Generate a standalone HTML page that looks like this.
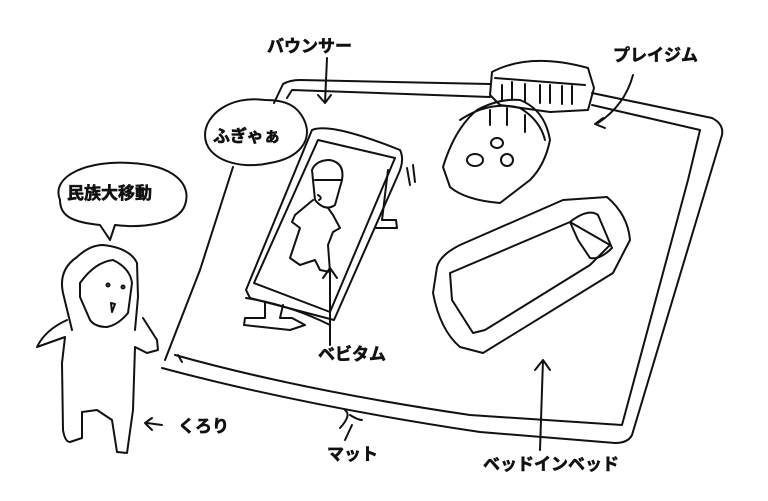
<!DOCTYPE html>
<html><head><meta charset="utf-8"><style>
html,body{margin:0;padding:0;background:#fff;}
svg{display:block}
text{font-family:"Liberation Sans","Noto Sans CJK JP",sans-serif;font-weight:bold;font-size:17px;fill:#111;stroke:#111;stroke-width:0.6}
path,ellipse,polyline{fill:none;stroke:#111;stroke-width:2;stroke-linecap:round;stroke-linejoin:round}
</style></head><body>
<svg width="768" height="501" viewBox="0 0 768 501">
<!-- mat -->
<path d="M274,103 L283,84 Q290,80 300,80 L490,84"/>
<path d="M287,98 L292,90 L490,97"/>
<path d="M592,93 L712,118 Q724,124 722,135 L632,435 Q628,443 615,443 L480,432 Q300,405 162,368"/>
<path d="M592,105 L700,130 L688,180 L622,425 L470,415 Q300,390 175,355"/>
<path d="M233,167 L200,270 L165,360"/>
<path d="M178,355 L182,362"/>
<!-- bubble ふぎゃぁ -->
<path d="M265,100 C230,95 205,115 205,135 C205,160 240,170 270,163 C300,158 312,140 305,122 C298,105 285,100 265,100 Z"/>
<!-- bubble 民族大移動 -->
<path d="M60,200 C50,175 90,160 130,163 C175,165 192,185 185,205 C178,225 140,228 115,225 L110,240 L100,225 C70,222 60,215 60,200 Z"/>
<!-- person -->
<path d="M72,330 L63,293 Q58,270 77,257 Q90,245 103,245 Q130,248 137,263 L138,297 L135,330"/>
<path d="M80,283 Q95,262 113,260 Q130,268 132,283 L128,313 Q118,325 107,327 Q95,327 90,320 L80,297 Z"/>
<ellipse cx="108" cy="285" rx="1.5" ry="1.5"/><ellipse cx="123" cy="287" rx="1.5" ry="1.5"/>
<path d="M111,303 L112,312 L115,304 Z"/>
<path d="M67,320 Q45,330 37,347 L65,337 L62,363 L63,430 Q65,442 70,442 L82,438 L82,412 L97,410 L112,420 L117,452 L127,453 L133,410 L135,347 L147,353 L158,350 L157,340 L143,318"/>
<!-- bouncer -->
<path d="M246,290 L312,130 Q330,122 400,150 Q405,160 398,175 L334,320 L250,298 Z"/>
<path d="M254,283 L318,140 L395,158 L330,312 Z"/>
<path d="M246,298 Q290,305 330,325"/>
<path d="M265,302 L265,318 L245,318 L244,325 L290,330 L305,325 L292,318 L280,318 L283,305"/>
<path d="M388,170 L382,220 L396,220 L397,228 L376,228"/>
<path d="M407,168 L410,185 M413,165 L415,182"/>
<path d="M312,170 Q316,160 330,160 Q345,163 342,180 L335,205 Q325,212 315,200 Z"/>
<path d="M315,180 L342,180"/>
<path d="M318,195 Q323,198 319,200"/>
<path d="M313,200 L295,215 L292,222 L300,228 L290,258 L300,265 L315,260 L320,270 L330,272 L328,245 L333,232 L340,228 L333,215 L328,208"/>
<!-- play gym -->
<path d="M492,72 Q530,52 588,68 L594,88 L588,110 L550,112 L500,105 L490,95 Z"/>
<path d="M495,78 L585,85"/>
<path d="M502,85 L502,100 M512,82 L512,100 M525,84 L525,102 M540,85 L540,103 M550,85 L550,103 M562,86 L562,104 M572,86 L572,104"/>
<path d="M443,167 Q455,128 477,110 Q500,98 520,100 Q545,110 550,140 Q545,165 530,180 L500,203 Q465,200 450,187 Z"/>
<path d="M460,120 Q490,100 520,108 Q540,120 545,140"/>
<ellipse cx="497" cy="143" rx="6" ry="5"/><ellipse cx="475" cy="160" rx="8" ry="6"/><ellipse cx="507" cy="160" rx="6" ry="6"/>
<path d="M490,110 L490,125 M507,108 L507,125 M525,115 L525,132"/>
<!-- bed in bed -->
<path d="M437,267 Q440,255 460,245 L563,200 L607,197 Q628,215 630,240 L613,273 L483,353 L460,347 Q440,330 433,293 Z"/>
<path d="M450,273 L570,222 L610,245 L590,265 L485,330 L473,333 L452,300 Z"/>
<path d="M570,222 Q588,208 598,215 L612,248 Q600,260 590,258 L578,240 Z"/>
<!-- arrows -->
<path d="M327,58 L325,103 M318,95 L325,103 L331,95"/>
<path d="M633,75 Q625,105 598,123 M603,118 L595,124 L605,128"/>
<path d="M330,268 L330,345 M323,278 L330,268 L337,278"/>
<path d="M543,360 L540,450 M535,370 L543,360 L550,370"/>
<path d="M162,425 L147,423 M152,418 L145,423 L152,430"/>
<path d="M340,428 Q352,415 345,410 M350,415 Q358,420 362,420 M345,440 L352,425"/>
<!-- labels -->
<text x="267" y="52">バウンサー</text>
<text x="613" y="61">プレイジム</text>
<text x="213" y="142" font-size="16">ふぎゃぁ</text>
<text x="67" y="199" font-size="16">民族大移動</text>
<text x="318" y="360">ベビタム</text>
<text x="178" y="432">くろり</text>
<text x="327" y="460">マット</text>
<text x="483" y="470">ベッドインベッド</text>
</svg>
</body></html>
